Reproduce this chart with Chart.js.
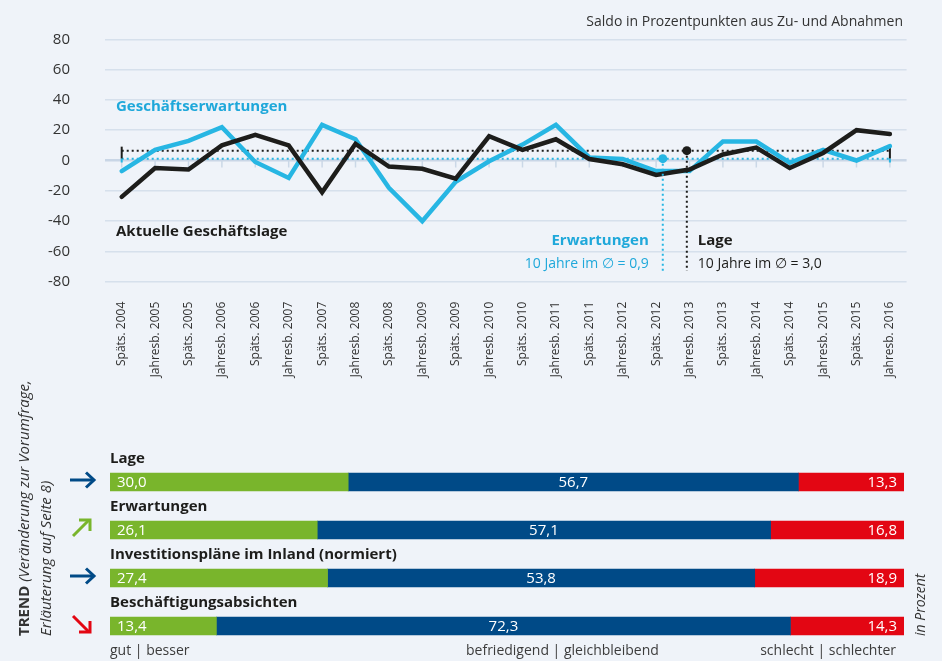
<!DOCTYPE html>
<html>
<head>
<meta charset="utf-8">
<script src="https://cdn.jsdelivr.net/npm/chart.js@4/dist/chart.umd.min.js"></script>
<style>
  html, body { margin: 0; padding: 0; background: #eff3f9; }
  #wrap { position: relative; width: 942px; height: 661px; overflow: hidden; }
  #line_chart { position: absolute; left: 0; top: 0; }
  #trend_chart { position: absolute; left: 0; top: 380px; }
</style>
</head>
<body>
<div id="wrap">
  <canvas id="line_chart" width="942" height="385"></canvas>
  <canvas id="trend_chart" width="942" height="281"></canvas>
</div>
<script>
// survey periods
const periods = [
  "Späts. 2004", "Jahresb. 2005", "Späts. 2005", "Jahresb. 2006", "Späts. 2006",
  "Jahresb. 2007", "Späts. 2007", "Jahresb. 2008", "Späts. 2008", "Jahresb. 2009",
  "Späts. 2009", "Jahresb. 2010", "Späts. 2010", "Jahresb. 2011", "Späts. 2011",
  "Jahresb. 2012", "Späts. 2012", "Jahresb. 2013", "Späts. 2013", "Jahresb. 2014",
  "Späts. 2014", "Jahresb. 2015", "Späts. 2015", "Jahresb. 2016",
];
const lage = [-24, -5, -6, 10, 17, 10, -21, 11, -4, -5.5, -12, 16, 7, 14, 1, -2.5, -9.5, -6, 4, 8.5, -5, 5, 20, 17.5];
const erwartungen = [-7, 7, 13, 22, -1, -11.5, 23.5, 14, -18, -40, -14, -0.5, 10.5, 23.5, 2, 1, -7, -7, 12.5, 12.5, -1.5, 7, 0, 9.5];
const yTicks = [80, 60, 40, 20, 0, -20, -40, -60, -80];

// 10-year averages (line position as drawn, label text)
const avgLage = 6.5;
const avgErw = 1.2;
const avgLageText = "3,0";
const avgErwText = "0,9";
const markLageIdx = 16.92;
const markErwIdx = 16.2;

// trend bars
const trendLabels = ["Lage", "Erwartungen", "Investitionspläne im Inland (normiert)", "Beschäftigungsabsichten"];
const gut = [30.0, 26.1, 27.4, 13.4];
const befriedigend = [56.7, 57.1, 53.8, 72.3];
const schlecht = [13.3, 16.8, 18.9, 14.3];
const trendDir = ["right", "up", "right", "down"];

const BLUE = "#27b6e3";
const BLUE_TXT = "#1fa8da";
const DARK = "#1d1d1b";
const TXT = "#333333";
const GREEN = "#79b52c";
const NAVY = "#004a87";
const RED = "#e30613";
const FONT = "'Open Sans', 'Noto Sans', sans-serif";

Chart.defaults.font.family = FONT;
Chart.defaults.color = TXT;

function seg(ctx, x1, y1, x2, y2) {
  ctx.beginPath();
  ctx.moveTo(x1, y1);
  ctx.lineTo(x2, y2);
  ctx.stroke();
}

const topDecor = {
  id: "topDecor",
  beforeDatasetsDraw(chart) {
    const { ctx, scales: { x, y } } = chart;
    const x0 = x.getPixelForValue(0);
    const x1 = x.getPixelForValue(periods.length - 1);
    const yZero = y.getPixelForValue(0);
    const yL = y.getPixelForValue(avgLage);
    const yE = y.getPixelForValue(avgErw);
    ctx.save();
    // small ticks under the zero line
    ctx.strokeStyle = "#cbd8e7";
    ctx.lineWidth = 1.5;
    periods.forEach((p, i) => {
      const px = x.getPixelForValue(i);
      seg(ctx, px, yZero, px, yZero + 7);
    });
    // average lines
    ctx.lineWidth = 2;
    ctx.setLineDash([2, 3]);
    ctx.strokeStyle = DARK;
    seg(ctx, x0, yL, x1, yL);
    ctx.strokeStyle = BLUE;
    seg(ctx, x0, yE, x1, yE);
    ctx.setLineDash([]);
    // end brackets
    [x0, x1].forEach((px) => {
      ctx.strokeStyle = DARK;
      seg(ctx, px, yL - 4, px, yE);
      ctx.strokeStyle = BLUE;
      seg(ctx, px, yE, px, yZero + 2);
    });
    ctx.restore();
  },
  afterDatasetsDraw(chart) {
    const { ctx, scales: { x, y } } = chart;
    const yL = y.getPixelForValue(avgLage);
    const yE = y.getPixelForValue(avgErw);
    const xl = x.getPixelForValue(markLageIdx);
    const xe = x.getPixelForValue(markErwIdx);
    ctx.save();
    ctx.lineWidth = 2;
    ctx.setLineDash([2, 3]);
    ctx.strokeStyle = BLUE;
    seg(ctx, xe, yE, xe, 271);
    ctx.strokeStyle = DARK;
    seg(ctx, xl, yL, xl, 271);
    ctx.setLineDash([]);
    ctx.fillStyle = BLUE;
    ctx.beginPath(); ctx.arc(xe, yE, 4.5, 0, Math.PI * 2); ctx.fill();
    ctx.fillStyle = DARK;
    ctx.beginPath(); ctx.arc(xl, yL, 4.5, 0, Math.PI * 2); ctx.fill();

    ctx.textBaseline = "middle";
    ctx.font = "bold 15px " + FONT;
    ctx.textAlign = "left";
    ctx.fillStyle = BLUE_TXT;
    ctx.fillText("Geschäftserwartungen", 116, 107);
    ctx.fillStyle = DARK;
    ctx.fillText("Aktuelle Geschäftslage", 116, 232);
    ctx.fillText("Lage", xl + 11, 241);
    ctx.font = "14px " + FONT;
    ctx.fillText("10 Jahre im \u2205 = " + avgLageText, xl + 11, 264);
    ctx.textAlign = "right";
    ctx.fillStyle = BLUE_TXT;
    ctx.font = "bold 15px " + FONT;
    ctx.fillText("Erwartungen", xe - 14, 241);
    ctx.font = "14px " + FONT;
    ctx.fillText("10 Jahre im \u2205 = " + avgErwText, xe - 14, 264);
    ctx.fillStyle = TXT;
    ctx.fillText("Saldo in Prozentpunkten aus Zu- und Abnahmen", 903, 22);
    ctx.restore();
  },
};

const line_ctx = document.getElementById("line_chart");
const line_chart = new Chart(line_ctx, {
  type: "line",
  data: {
    labels: periods,
    datasets: [
      {
        label: "Aktuelle Geschäftslage",
        data: lage,
        borderColor: DARK,
        borderWidth: 4.5,
        pointRadius: 0,
        borderJoinStyle: "miter",
        borderCapStyle: "round",
        tension: 0,
      },
      {
        label: "Geschäftserwartungen",
        data: erwartungen,
        borderColor: BLUE,
        borderWidth: 4.5,
        pointRadius: 0,
        borderJoinStyle: "miter",
        borderCapStyle: "round",
        tension: 0,
      },
    ],
  },
  options: {
    responsive: false,
    animation: false,
    layout: { padding: { top: 39.3, right: 35.4, left: 0, bottom: 0 } },
    plugins: { legend: { display: false }, tooltip: { enabled: false } },
    scales: {
      x: {
        offset: true,
        grid: { display: false },
        border: { display: false },
        ticks: {
          autoSkip: false,
          minRotation: 90,
          maxRotation: 90,
          padding: 12,
          color: TXT,
          font: { size: 12 },
        },
        afterFit(scale) { scale.height = 103.3; },
      },
      y: {
        min: -80,
        max: 80,
        afterBuildTicks(scale) { scale.ticks = yTicks.map((v) => ({ value: v })); },
        grid: {
          drawTicks: true,
          tickLength: 35,
          tickColor: "rgba(0,0,0,0)",
          color: (c) => (c.tick && c.tick.value === 0 ? "#c9d6e6" : "#d6e0ec"),
          lineWidth: (c) => (c.tick && c.tick.value === 0 ? 2.5 : 1.5),
        },
        border: { display: false },
        ticks: { padding: 0, color: TXT, font: { size: 15 } },
        afterFit(scale) { scale.width = 105; },
      },
    },
  },
  plugins: [topDecor],
});

function fmt(v) {
  return v.toFixed(1).replace(".", ",");
}

function drawArrow(ctx, dir, cy, color) {
  ctx.save();
  ctx.strokeStyle = color;
  ctx.lineWidth = 3;
  ctx.lineCap = "butt";
  ctx.lineJoin = "miter";
  if (dir === "right") {
    seg(ctx, 70, cy, 93, cy);
    ctx.beginPath();
    ctx.moveTo(86, cy - 7.5);
    ctx.lineTo(94, cy);
    ctx.lineTo(86, cy + 7.5);
    ctx.stroke();
  } else if (dir === "up") {
    seg(ctx, 73, cy + 8, 89, cy - 8);
    ctx.beginPath();
    ctx.moveTo(79, cy - 8);
    ctx.lineTo(90, cy - 8);
    ctx.lineTo(90, cy + 3);
    ctx.stroke();
  } else {
    seg(ctx, 73, cy - 8, 89, cy + 8);
    ctx.beginPath();
    ctx.moveTo(79, cy + 8);
    ctx.lineTo(90, cy + 8);
    ctx.lineTo(90, cy - 3);
    ctx.stroke();
  }
  ctx.restore();
}

const trendDecor = {
  id: "trendDecor",
  afterDatasetsDraw(chart) {
    const { ctx, scales: { x, y } } = chart;
    ctx.save();
    ctx.textBaseline = "middle";
    trendLabels.forEach((name, i) => {
      const cy = y.getPixelForValue(i);
      // row title
      ctx.fillStyle = DARK;
      ctx.textAlign = "left";
      ctx.font = "bold 15px " + FONT;
      ctx.fillText(name, 110, cy - 23);
      // values
      ctx.fillStyle = "#ffffff";
      ctx.font = "15px " + FONT;
      ctx.fillText(fmt(gut[i]), x.getPixelForValue(0) + 7, cy + 1);
      ctx.textAlign = "center";
      const bx0 = x.getPixelForValue(gut[i]);
      const bx1 = x.getPixelForValue(gut[i] + befriedigend[i]);
      ctx.fillText(fmt(befriedigend[i]), (bx0 + bx1) / 2, cy + 1);
      ctx.textAlign = "right";
      ctx.fillText(fmt(schlecht[i]), x.getPixelForValue(100) - 7, cy + 1);
      // trend arrow
      const col = trendDir[i] === "up" ? GREEN : trendDir[i] === "down" ? RED : NAVY;
      drawArrow(ctx, trendDir[i], cy - 2, col);
    });
    // scale captions
    const yb = chart.height - 10;
    ctx.fillStyle = "#3c3c3c";
    ctx.font = "14px " + FONT;
    ctx.textAlign = "left";
    ctx.fillText("gut | besser", 110, yb);
    ctx.fillText("befriedigend | gleichbleibend", 466, yb);
    ctx.textAlign = "right";
    ctx.fillText("schlecht | schlechter", 896, yb);

    // vertical texts (canvas starts at page y = 380)
    const base = chart.height - 25;
    ctx.save();
    ctx.translate(25, base);
    ctx.rotate(-Math.PI / 2);
    ctx.textAlign = "left";
    ctx.fillStyle = TXT;
    ctx.font = "bold 15px " + FONT;
    ctx.fillText("TREND", 0, 0);
    const w = ctx.measureText("TREND ").width;
    ctx.font = "italic 15px " + FONT;
    ctx.fillText("(Veränderung zur Vorumfrage,", w, 0);
    ctx.fillText("Erläuterung auf Seite 8)", 0, 22);
    ctx.restore();

    ctx.save();
    ctx.translate(921, base);
    ctx.rotate(-Math.PI / 2);
    ctx.textAlign = "left";
    ctx.fillStyle = TXT;
    ctx.font = "italic 14px " + FONT;
    ctx.fillText("in Prozent", 0, 0);
    ctx.restore();
    ctx.restore();
  },
};

const trend_ctx = document.getElementById("trend_chart");
const trend_chart = new Chart(trend_ctx, {
  type: "bar",
  data: {
    labels: trendLabels,
    datasets: [
      { label: "gut | besser", data: gut, backgroundColor: GREEN },
      { label: "befriedigend | gleichbleibend", data: befriedigend, backgroundColor: NAVY },
      { label: "schlecht | schlechter", data: schlecht, backgroundColor: RED },
    ],
  },
  options: {
    indexAxis: "y",
    responsive: false,
    animation: false,
    layout: { padding: { left: 110, right: 38, top: 78, bottom: 11 } },
    datasets: { bar: { barThickness: 18, borderWidth: 0 } },
    plugins: { legend: { display: false }, tooltip: { enabled: false } },
    scales: {
      x: { stacked: true, min: 0, max: 100, display: false },
      y: { stacked: true, display: false },
    },
  },
  plugins: [trendDecor],
});
</script>
</body>
</html>
